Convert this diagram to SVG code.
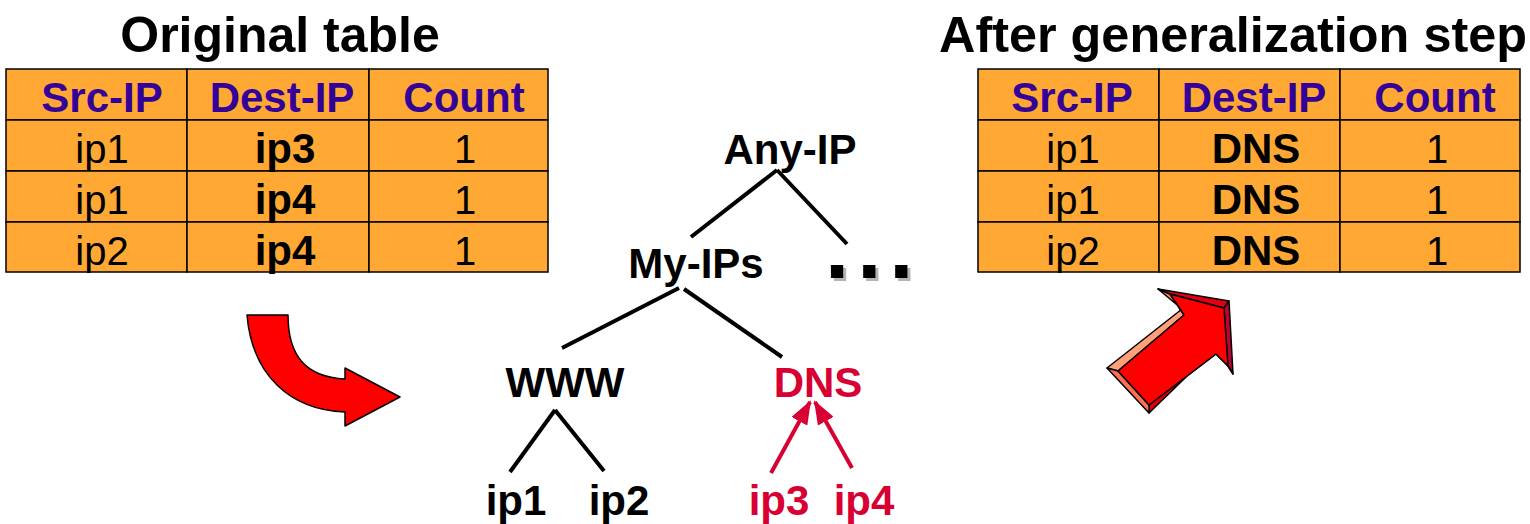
<svg xmlns="http://www.w3.org/2000/svg" width="1530" height="524" viewBox="0 0 1530 524">
<defs>
<style>
.title{font-family:"Liberation Sans",Arial,sans-serif;font-weight:bold;font-size:50px;fill:#000;text-anchor:middle}
.cell{fill:#FFA833;stroke:#000;stroke-width:1.5}
.hdr{font-family:"Liberation Sans",Arial,sans-serif;font-weight:bold;font-size:42px;fill:#330099;text-anchor:middle}
.txt{font-family:"Liberation Sans",Arial,sans-serif;font-size:40px;fill:#000;text-anchor:middle}
.btxt{font-family:"Liberation Sans",Arial,sans-serif;font-weight:bold;font-size:42px;fill:#000;text-anchor:middle}
.lbl{font-family:"Liberation Sans",Arial,sans-serif;font-weight:bold;font-size:42px;fill:#000;text-anchor:middle}
.red{fill:#D80032}
.edge{stroke:#000;stroke-width:4;fill:none}
.redge{stroke:#D80032;stroke-width:4;fill:none}
.arr{stroke:#000;stroke-width:1.5;stroke-linejoin:round}
</style>
<marker id="rh" markerUnits="userSpaceOnUse" markerWidth="24" markerHeight="18" refX="22" refY="9" orient="auto">
<path d="M0,0 L24,9 L0,18 Z" fill="#D80032"/>
</marker>
</defs>
<rect width="1530" height="524" fill="#fff"/>

<g id="title-left"><text class="title" x="280" y="52">Original table</text></g>
<g id="title-right"><text class="title" x="1233" y="52" textLength="588" lengthAdjust="spacingAndGlyphs">After generalization step</text></g>

<g id="table-original">
<rect class="cell" x="6" y="69" width="181" height="51"/>
<rect class="cell" x="187" y="69" width="182" height="51"/>
<rect class="cell" x="369" y="69" width="179" height="51"/>
<rect class="cell" x="6" y="120" width="181" height="51"/>
<rect class="cell" x="187" y="120" width="182" height="51"/>
<rect class="cell" x="369" y="120" width="179" height="51"/>
<rect class="cell" x="6" y="171" width="181" height="51"/>
<rect class="cell" x="187" y="171" width="182" height="51"/>
<rect class="cell" x="369" y="171" width="179" height="51"/>
<rect class="cell" x="6" y="222" width="181" height="50"/>
<rect class="cell" x="187" y="222" width="182" height="50"/>
<rect class="cell" x="369" y="222" width="179" height="50"/>
<text class="hdr" x="102" y="112">Src-IP</text>
<text class="hdr" x="282" y="112">Dest-IP</text>
<text class="hdr" x="464" y="112">Count</text>
<text class="txt" x="102" y="163">ip1</text>
<text class="btxt" x="285" y="163">ip3</text>
<text class="txt" x="465" y="163">1</text>
<text class="txt" x="102" y="214">ip1</text>
<text class="btxt" x="285" y="214">ip4</text>
<text class="txt" x="465" y="214">1</text>
<text class="txt" x="102" y="265">ip2</text>
<text class="btxt" x="285" y="265">ip4</text>
<text class="txt" x="465" y="265">1</text>
</g>

<g id="table-generalized">
<rect class="cell" x="978" y="69" width="181" height="51"/>
<rect class="cell" x="1159" y="69" width="181" height="51"/>
<rect class="cell" x="1340" y="69" width="180" height="51"/>
<rect class="cell" x="978" y="120" width="181" height="51"/>
<rect class="cell" x="1159" y="120" width="181" height="51"/>
<rect class="cell" x="1340" y="120" width="180" height="51"/>
<rect class="cell" x="978" y="171" width="181" height="51"/>
<rect class="cell" x="1159" y="171" width="181" height="51"/>
<rect class="cell" x="1340" y="171" width="180" height="51"/>
<rect class="cell" x="978" y="222" width="181" height="50"/>
<rect class="cell" x="1159" y="222" width="181" height="50"/>
<rect class="cell" x="1340" y="222" width="180" height="50"/>
<text class="hdr" x="1072" y="112">Src-IP</text>
<text class="hdr" x="1254" y="112">Dest-IP</text>
<text class="hdr" x="1435" y="112">Count</text>
<text class="txt" x="1073" y="163">ip1</text>
<text class="btxt" x="1256" y="163">DNS</text>
<text class="txt" x="1437" y="163">1</text>
<text class="txt" x="1073" y="214">ip1</text>
<text class="btxt" x="1256" y="214">DNS</text>
<text class="txt" x="1437" y="214">1</text>
<text class="txt" x="1073" y="265">ip2</text>
<text class="btxt" x="1256" y="265">DNS</text>
<text class="txt" x="1437" y="265">1</text>
</g>

<g id="arrow-curved">
<path class="arr" fill="#FF0000" d="M247,315 L288,315 C288,355 305,377 345,379 L345,368 L400,397 L345,426 L345,412 C290,410 252,375 247,315 Z"/>
</g>

<g id="arrow-3d" class="arr">
<polygon fill="#FFA07A" points="1107,368 1182,309 1184,315 1118,371"/>
<polygon fill="#FF8060" points="1182,309 1158,289 1170,294 1184,315"/>
<polygon fill="#E0000F" points="1158,289 1229,301 1224,308 1170,294"/>
<polygon fill="#C0002F" points="1229,301 1233,374 1228,366 1224,308"/>
<polygon fill="#FF7050" points="1233,374 1217,347 1216,354 1228,366"/>
<polygon fill="#E00000" points="1217,347 1149,413 1149,405 1216,354"/>
<polygon fill="#FF7050" points="1149,413 1107,368 1118,371 1149,405"/>
<polygon fill="#FF0000" points="1118,371 1184,315 1170,294 1224,308 1228,366 1216,354 1149,405"/>
</g>

<g id="connectors">
<line class="edge" x1="777" y1="170" x2="691" y2="237"/>
<line class="edge" x1="777" y1="170" x2="847" y2="244"/>
<line class="edge" x1="679" y1="288" x2="562" y2="348"/>
<line class="edge" x1="684" y1="289" x2="782" y2="357"/>
<line class="edge" x1="555" y1="410" x2="510" y2="472"/>
<line class="edge" x1="555" y1="410" x2="604" y2="471"/>
<line class="redge" x1="771" y1="473" x2="810" y2="402" marker-end="url(#rh)"/>
<line class="redge" x1="852" y1="468" x2="815" y2="402" marker-end="url(#rh)"/>
</g>

<g id="node-any-ip"><text class="lbl" x="790" y="164">Any-IP</text></g>
<g id="node-my-ips"><text class="lbl" x="696" y="278">My-IPs</text></g>
<g id="node-more">
<text x="828" y="281" font-family="Liberation Sans, Arial, sans-serif" font-weight="bold" font-size="87px" letter-spacing="8" fill="#B4B4B4">...</text>
<text x="825" y="278" font-family="Liberation Sans, Arial, sans-serif" font-weight="bold" font-size="87px" letter-spacing="8" fill="#000">...</text>
</g>
<g id="node-www"><text class="lbl" x="565" y="397">WWW</text></g>
<g id="node-dns"><text class="lbl red" x="818" y="397">DNS</text></g>
<g id="node-ip1"><text class="lbl" x="516" y="515">ip1</text></g>
<g id="node-ip2"><text class="lbl" x="619" y="515">ip2</text></g>
<g id="node-ip3"><text class="lbl red" x="779" y="515">ip3</text></g>
<g id="node-ip4"><text class="lbl red" x="864" y="515">ip4</text></g>
</svg>
